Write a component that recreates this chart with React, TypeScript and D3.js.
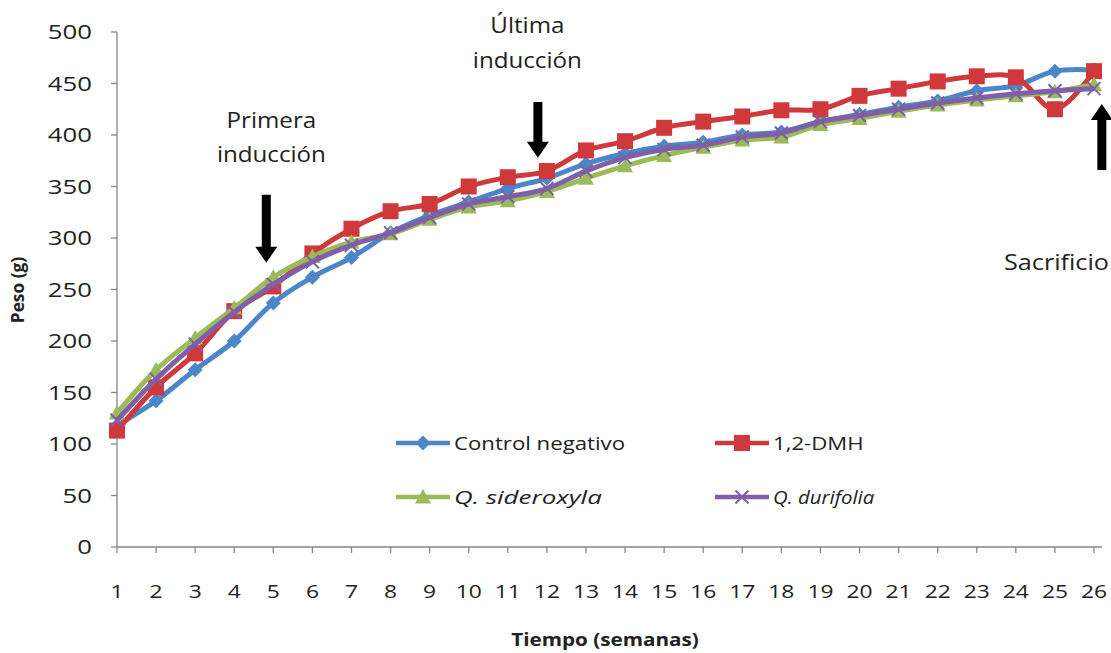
import React from "react";
import * as d3 from "d3";

const weekLabels = ["1","2","3","4","5","6","7","8","9","10","11","12","13","14","15","16","17","18","19","20","21","22","23","24","25","26"];
const yTicks = [0, 50, 100, 150, 200, 250, 300, 350, 400, 450, 500];

const controlNegativo = [118,142,172,200,237,262,281,305,322,335,348,358,372,382,389,393,400,403,413,420,427,433,443,448,462,463];
const dmh = [113,155,188,229,253,285,309,326,333,350,359,365,385,394,407,413,418,424,425,438,445,452,457,456,425,462];
const sideroxyla = [130,172,203,232,262,282,296,304,318,330,336,345,358,370,380,388,395,398,410,416,423,429,434,438,442,449];
const durifolia = [123,163,197,228,255,277,293,305,320,333,340,348,365,378,386,390,398,402,413,419,425,431,436,440,443,445];

const seriesNames = ["Control negativo", "1,2-DMH", "Q. sideroxyla", "Q. durifolia"];
const seriesColors = ["#4a86c8", "#d0393b", "#9bbb59", "#7f5fa8"];
const seriesMarkers = ["diamond", "square", "triangle", "x"];
const seriesItalic = [false, false, true, true];
const seriesData = [controlNegativo, dmh, sideroxyla, durifolia];

// annotations: arrow at a week position from tail value to tip value
const annotations = [
  { label: ["Primera", "inducción"], week: 4.82, tail: 342, tip: 276, labelWeek: 4.95, labelVals: [407, 374] },
  { label: ["Última", "inducción"], week: 11.77, tail: 432, tip: 378, labelWeek: 11.5, labelVals: [499, 465] },
];
const sacrificio = { label: "Sacrificio", week: 26.2, tail: 366, tip: 430, labelVal: 269 };

const W = 1111, H = 653;
const FONT = "'Open Sans', sans-serif";

function ST({ x, y, sx = 1.25, rotate = 0, anchor = "start", dy, size, weight, italic, children }: any) {
  return (
    <text
      transform={`translate(${x},${y}) rotate(${rotate}) scale(${sx},1)`}
      textAnchor={anchor}
      dy={dy}
      fontSize={size}
      fontWeight={weight || "normal"}
      fontStyle={italic ? "italic" : "normal"}
      fill="#222"
    >
      {children}
    </text>
  );
}

function Marker({ type, cx, cy, color }: { type: string; cx: number; cy: number; color: string }) {
  if (type === "diamond") {
    const s = 7.5;
    return <path d={`M${cx},${cy - s}L${cx + s},${cy}L${cx},${cy + s}L${cx - s},${cy}Z`} fill={color} />;
  }
  if (type === "square") {
    const s = 8;
    return <rect x={cx - s} y={cy - s} width={2 * s} height={2 * s} fill={color} />;
  }
  if (type === "triangle") {
    const s = 8;
    return <path d={`M${cx},${cy - s}L${cx + s},${cy + s * 0.8}L${cx - s},${cy + s * 0.8}Z`} fill={color} />;
  }
  const s = 6.5;
  return (
    <path d={`M${cx - s},${cy - s}L${cx + s},${cy + s}M${cx + s},${cy - s}L${cx - s},${cy + s}`} stroke={color} strokeWidth={2} fill="none" />
  );
}

function Arrow({ x, yTail, yTip }: { x: number; yTail: number; yTip: number }) {
  const dir = yTip > yTail ? 1 : -1;
  const headLen = 16;
  const shaftW = 4.5;
  const headW = 11;
  const yBase = yTip - dir * headLen;
  const d = `M${x - shaftW},${yTail}L${x + shaftW},${yTail}L${x + shaftW},${yBase}L${x + headW},${yBase}L${x},${yTip}L${x - headW},${yBase}L${x - shaftW},${yBase}Z`;
  return <path d={d} fill="#000" />;
}

export default function App() {
  const x = d3.scaleLinear().domain([1, 26]).range([117, 1094]);
  const y = d3.scaleLinear().domain([0, 500]).range([547, 32]);
  const line = d3
    .line<number>()
    .x((_, i) => x(i + 1))
    .y((d) => y(d))
    .curve(d3.curveCatmullRom.alpha(0.5));

  const legendPos = [
    { lx: 396, ly: 443 },
    { lx: 715, ly: 443 },
    { lx: 396, ly: 497 },
    { lx: 715, ly: 497 },
  ];
  const legendSx = [1.2, 1.2, 1.4, 1.1];

  return (
    <svg width={W} height={H} style={{ position: "absolute", left: 0, top: 0, background: "#fff" }} fontFamily={FONT}>
      <rect width={W} height={H} fill="#fff" />
      {/* Y axis */}
      <line x1={x(1)} x2={x(1)} y1={y(500)} y2={y(0)} stroke="#868686" strokeWidth={1.3} />
      {yTicks.map((t) => (
        <g key={t}>
          <line x1={x(1) - 6} x2={x(1)} y1={y(t)} y2={y(t)} stroke="#868686" strokeWidth={1.3} />
          <ST x={92} y={y(t)} dy="0.36em" anchor="end" size={19.5} sx={1.32}>
            {t}
          </ST>
        </g>
      ))}
      {/* X axis */}
      <line x1={x(1)} x2={x(26) + 8} y1={y(0)} y2={y(0)} stroke="#868686" strokeWidth={1.3} />
      {weekLabels.map((w, i) => (
        <g key={w}>
          <line x1={x(i + 1)} x2={x(i + 1)} y1={y(0)} y2={y(0) + 6} stroke="#868686" strokeWidth={1.3} />
          <ST x={x(i + 1)} y={598} anchor="middle" size={19} sx={1.2}>
            {w}
          </ST>
        </g>
      ))}
      <ST x={605} y={646} anchor="middle" size={17.5} weight="bold" sx={1.18}>
        Tiempo (semanas)
      </ST>
      <ST x={24} y={290} rotate={-90} anchor="middle" size={17} weight="bold" sx={1.02}>
        Peso (g)
      </ST>

      {/* Series */}
      {seriesData.map((data, si) => (
        <g key={seriesNames[si]}>
          <path d={line(data) || ""} fill="none" stroke={seriesColors[si]} strokeWidth={5} strokeLinejoin="round" />
          {data.map((v, i) => (
            <Marker key={i} type={seriesMarkers[si]} cx={x(i + 1)} cy={y(v)} color={seriesColors[si]} />
          ))}
        </g>
      ))}

      {/* Annotations */}
      {annotations.map((a) => (
        <g key={a.label[0]}>
          <Arrow x={x(a.week)} yTail={y(a.tail)} yTip={y(a.tip)} />
          {a.label.map((t, k) => (
            <ST key={t} x={x(a.labelWeek)} y={y(a.labelVals[k])} anchor="middle" size={21} sx={1.15}>
              {t}
            </ST>
          ))}
        </g>
      ))}
      <Arrow x={x(sacrificio.week)} yTail={y(sacrificio.tail)} yTip={y(sacrificio.tip)} />
      <ST x={1004} y={y(sacrificio.labelVal)} size={21} sx={1.2}>
        {sacrificio.label}
      </ST>

      {/* Legend */}
      {seriesNames.map((n, si) => {
        const p = legendPos[si];
        return (
          <g key={n}>
            <line x1={p.lx} x2={p.lx + 54} y1={p.ly} y2={p.ly} stroke={seriesColors[si]} strokeWidth={4.5} />
            <Marker type={seriesMarkers[si]} cx={p.lx + 27} cy={p.ly} color={seriesColors[si]} />
            <ST x={p.lx + 58} y={p.ly} dy="0.36em" size={18.5} sx={legendSx[si]} italic={seriesItalic[si]}>
              {n}
            </ST>
          </g>
        );
      })}
    </svg>
  );
}
